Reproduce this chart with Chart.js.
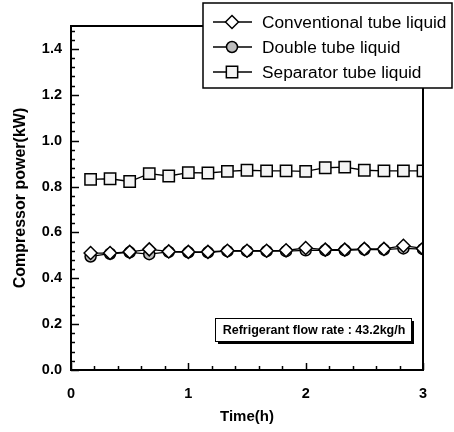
<!DOCTYPE html>
<html><head><meta charset="utf-8">
<script src="https://cdn.jsdelivr.net/npm/chart.js@4.4.1/dist/chart.umd.min.js"></script>
<style>html,body{margin:0;padding:0;background:#fff}#wrap{width:454px;height:432px}</style>
</head><body><div id="wrap"><canvas id="c" width="454" height="432"></canvas></div>
<script>
// ---- data ----
const timeH = [0.167,0.333,0.5,0.667,0.833,1.0,1.167,1.333,1.5,1.667,1.833,2.0,2.167,2.333,2.5,2.667,2.833,3.0];
const conventional = [0.510,0.510,0.515,0.526,0.517,0.515,0.515,0.520,0.520,0.520,0.522,0.532,0.525,0.525,0.528,0.528,0.542,0.530];
const doubleTube   = [0.495,0.507,0.513,0.505,0.515,0.513,0.513,0.518,0.518,0.518,0.518,0.522,0.522,0.522,0.525,0.525,0.530,0.527];
const separator    = [0.831,0.834,0.822,0.856,0.846,0.861,0.859,0.866,0.871,0.868,0.868,0.866,0.882,0.885,0.871,0.868,0.868,0.868];
const seriesLabels = ['Conventional tube liquid','Double tube liquid','Separator tube liquid'];
const xTickValues = [0,1,2,3];
const yTickValues = [0,0.2,0.4,0.6,0.8,1.0,1.2,1.4];
const xTitle = 'Time(h)';
const yTitle = 'Compressor power(kW)';
const noteText = 'Refrigerant flow rate : 43.2kg/h';

const FONT = '"Liberation Sans", Arial, sans-serif';

function pts(ys){ return timeH.map((x,i)=>({x:x,y:ys[i]})); }

const styles = [
  {pointStyle:'rectRot', radius:6.5, fill:'#ffffff'},
  {pointStyle:'circle', radius:5.5, fill:'#bdbdbd'},
  {pointStyle:'rect', radius:8, fill:'#f4f4f4'}
];
const seriesData = [conventional, doubleTube, separator];

function drawMarker(ctx, style, r, x, y, fill){
  ctx.save();
  ctx.fillStyle = fill; ctx.strokeStyle = '#000'; ctx.lineWidth = 1.5;
  ctx.beginPath();
  if (style === 'circle') { ctx.arc(x,y,r,0,Math.PI*2); }
  else if (style === 'rect') { const s = r*Math.SQRT1_2; ctx.rect(x-s,y-s,2*s,2*s); }
  else { ctx.moveTo(x,y-r); ctx.lineTo(x+r,y); ctx.lineTo(x,y+r); ctx.lineTo(x-r,y); ctx.closePath(); }
  ctx.fill(); ctx.stroke();
  ctx.restore();
}

const decor = {
  id:'decor',
  afterDatasetsDraw(chart){
    const ctx = chart.ctx, a = chart.chartArea;
    const xs = chart.scales.x, ys = chart.scales.y;
    ctx.save();
    ctx.strokeStyle = '#000';
    // frame
    ctx.lineWidth = 2;
    ctx.strokeRect(a.left, a.top, a.right - a.left, a.bottom - a.top);
    // inward ticks
    ctx.lineWidth = 1.5;
    for (let i = 0; i <= 15; i++) {
      const v = i * 0.2;
      const major = Math.abs(v - Math.round(v)) < 1e-6;
      const px = Math.round(xs.getPixelForValue(v)) + 0.5;
      ctx.beginPath(); ctx.moveTo(px, a.bottom); ctx.lineTo(px, a.bottom - (major ? 7 : 4)); ctx.stroke();
    }
    for (let i = 0; i <= 37; i++) {
      const v = i * 0.04;
      const major = Math.abs(v / 0.2 - Math.round(v / 0.2)) < 1e-6;
      const py = Math.round(ys.getPixelForValue(v)) + 0.5;
      ctx.beginPath(); ctx.moveTo(a.left, py); ctx.lineTo(a.left + (major ? 8 : 4), py); ctx.stroke();
    }
    // annotation box
    const bx = 215, by = 318, bw = 196, bh = 23;
    ctx.fillStyle = '#000';
    ctx.fillRect(bx + 3, by + 3, bw, bh);
    ctx.fillStyle = '#fff';
    ctx.fillRect(bx, by, bw, bh);
    ctx.lineWidth = 1;
    ctx.strokeRect(bx + 0.5, by + 0.5, bw, bh);
    ctx.fillStyle = '#000';
    ctx.font = 'bold 12.5px ' + FONT;
    ctx.textAlign = 'center'; ctx.textBaseline = 'middle';
    ctx.fillText(noteText, bx + bw / 2 + 1, by + bh / 2 + 1);
    ctx.restore();
  },
  afterDraw(chart){
    const ctx = chart.ctx;
    ctx.save();
    // legend box
    const lx = 203, ly = 3, lw = 249, lh = 85;
    ctx.fillStyle = '#fff';
    ctx.fillRect(lx, ly, lw, lh);
    ctx.strokeStyle = '#000'; ctx.lineWidth = 1.5;
    ctx.strokeRect(lx, ly, lw, lh);
    const rows = [22, 47, 72];
    chart.data.datasets.forEach((ds, i) => {
      const y = rows[i];
      ctx.strokeStyle = '#000'; ctx.lineWidth = 1.3;
      ctx.beginPath(); ctx.moveTo(213, y); ctx.lineTo(252, y); ctx.stroke();
      drawMarker(ctx, styles[i].pointStyle, styles[i].radius, 232, y, styles[i].fill);
      ctx.fillStyle = '#000';
      ctx.font = '17.3px ' + FONT;
      ctx.textAlign = 'left'; ctx.textBaseline = 'middle';
      ctx.fillText(ds.label, 262, y + 1);
    });
    ctx.restore();
  }
};

new Chart(document.getElementById('c'), {
  type: 'line',
  data: {
    datasets: seriesLabels.map((lab, i) => ({
      label: lab,
      data: pts(seriesData[i]),
      borderColor: '#000',
      borderWidth: 1.3,
      backgroundColor: styles[i].fill,
      pointStyle: styles[i].pointStyle,
      pointRadius: styles[i].radius,
      pointBackgroundColor: styles[i].fill,
      pointBorderColor: '#000',
      pointBorderWidth: 1.5,
      fill: false,
      tension: 0
    }))
  },
  options: {
    responsive: false,
    animation: false,
    devicePixelRatio: 1,
    layout: { padding: { left: 0, right: 31, top: 26, bottom: 0 } },
    plugins: { legend: { display: false }, tooltip: { enabled: false } },
    scales: {
      x: {
        type: 'linear', min: 0, max: 3,
        afterBuildTicks: s => { s.ticks = xTickValues.map(v => ({ value: v })); },
        afterFit: s => { s.height = 62; },
        grid: { display: false, drawTicks: false },
        border: { display: false },
        ticks: { color: '#000', padding: 15, font: { family: FONT, size: 14.5, weight: 'bold' }, maxRotation: 0 },
        title: { display: true, text: xTitle, color: '#000', font: { family: FONT, size: 15, weight: 'bold' }, padding: { top: 0, bottom: 6 } }
      },
      y: {
        type: 'linear', min: 0, max: 1.5,
        afterBuildTicks: s => { s.ticks = yTickValues.map(v => ({ value: v })); },
        afterFit: s => { s.width = 71; },
        grid: { display: false, drawTicks: false },
        border: { display: false },
        ticks: { color: '#000', padding: 9, font: { family: FONT, size: 14.5, weight: 'bold' }, callback: v => Number(v).toFixed(1) },
        title: { display: true, text: yTitle, color: '#000', font: { family: FONT, size: 16, weight: 'bold' }, padding: { top: 11, bottom: 0 } }
      }
    }
  },
  plugins: [decor]
});
</script>
</body></html>
